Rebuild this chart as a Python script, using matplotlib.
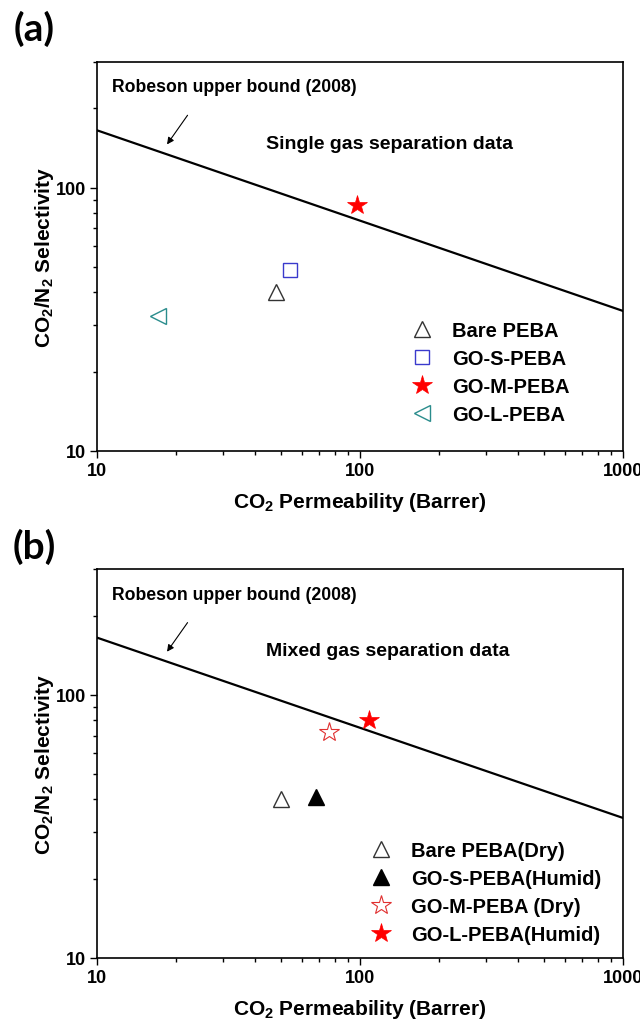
import matplotlib.pyplot as plt
import matplotlib.ticker as mticker

plt.rcParams['font.family'] = ['Liberation Sans', 'DejaVu Sans']
plt.rcParams['font.weight'] = 'bold'
plt.rcParams['axes.labelweight'] = 'bold'
plt.rcParams['mathtext.fontset'] = 'custom'
plt.rcParams['mathtext.rm'] = 'Liberation Sans:bold'
plt.rcParams['mathtext.bf'] = 'Liberation Sans:bold'
plt.rcParams['mathtext.default'] = 'bf'

# Robeson upper bound (2008), read at the axis ends
bound_x = [10, 1000]
bound_y = [165, 34]

# (a) single gas separation data
single_labels = ['Bare PEBA', 'GO-S-PEBA', 'GO-M-PEBA', 'GO-L-PEBA']
single_perm = [48, 54, 97, 17]
single_sel = [40, 48.5, 86, 32.5]

# (b) mixed gas separation data
mixed_labels = ['Bare PEBA(Dry)', 'GO-S-PEBA(Humid)', 'GO-M-PEBA (Dry)', 'GO-L-PEBA(Humid)']
mixed_perm = [50, 68, 76, 108]
mixed_sel = [40, 41, 72, 80.5]

single_style = [
    dict(marker='^', mfc='none', mec='#333333', ms=11, mew=1.0),
    dict(marker='s', mfc='none', mec='#3a3acc', ms=10, mew=1.0),
    dict(marker='*', mfc='red', mec='red', ms=15, mew=0.5),
    dict(marker='<', mfc='none', mec='#2a8c8c', ms=11, mew=1.0),
]
mixed_style = [
    dict(marker='^', mfc='none', mec='#333333', ms=11, mew=1.0),
    dict(marker='^', mfc='black', mec='black', ms=11, mew=1.0),
    dict(marker='*', mfc='none', mec='#e03030', ms=15, mew=0.8),
    dict(marker='*', mfc='red', mec='red', ms=15, mew=0.5),
]


def draw_panel(ax, perm, sel, labels, styles, title, legend_anchor):
    ax.plot(bound_x, bound_y, color='black', lw=1.6)
    for p, s, lab, st in zip(perm, sel, labels, styles):
        ax.plot([p], [s], ls='none', label=lab, **st)
    ax.set_xscale('log')
    ax.set_yscale('log')
    ax.set_xlim(10, 1000)
    ax.set_ylim(10, 300)
    ax.xaxis.set_major_formatter(mticker.FormatStrFormatter('%d'))
    ax.yaxis.set_major_formatter(mticker.FormatStrFormatter('%d'))
    ax.xaxis.set_minor_formatter(mticker.NullFormatter())
    ax.yaxis.set_minor_formatter(mticker.NullFormatter())
    ax.tick_params(which='major', direction='out', length=5, width=1.0, labelsize=13, pad=3)
    ax.tick_params(which='minor', direction='out', length=3, width=1.0)
    ax.tick_params(top=False, right=False, which='both')
    for sp in ax.spines.values():
        sp.set_linewidth(1.2)
    ax.set_xlabel('CO$_2$ Permeability (Barrer)', fontsize=15, labelpad=8)
    ax.set_ylabel('CO$_2$/N$_2$ Selectivity', fontsize=15, labelpad=0)
    ax.text(0.028, 0.936, 'Robeson upper bound (2008)', transform=ax.transAxes,
            fontsize=12.7, ha='left', va='center')
    ax.text(0.321, 0.79, title, transform=ax.transAxes, fontsize=14, ha='left', va='center')
    ax.annotate('', xy=(18.2, 143), xytext=(22.4, 192),
                arrowprops=dict(arrowstyle='-|>', color='black', lw=0.8,
                                mutation_scale=10))
    ax.legend(loc='upper left', bbox_to_anchor=legend_anchor, frameon=False,
              fontsize=14.5, handlelength=1.0, handletextpad=1.0, labelspacing=0.45,
              borderpad=0, borderaxespad=0, numpoints=1)


fig = plt.figure(figsize=(6.4, 10.2), dpi=100)
ax1 = fig.add_axes([0.1516, 0.5569, 0.822, 0.3814])
ax2 = fig.add_axes([0.1516, 0.0601, 0.822, 0.3807])

draw_panel(ax1, single_perm, single_sel, single_labels, single_style,
           'Single gas separation data', (0.599, 0.335))
draw_panel(ax2, mixed_perm, mixed_sel, mixed_labels, mixed_style,
           'Mixed gas separation data', (0.521, 0.30))

fig.text(34 / 640, 1 - 29 / 1020, '(a)', fontsize=28, fontweight='bold',
         family=['Lato', 'DejaVu Sans'], ha='center', va='center')
fig.text(34 / 640, 1 - 547 / 1020, '(b)', fontsize=28, fontweight='bold',
         family=['Lato', 'DejaVu Sans'], ha='center', va='center')

fig.savefig('out.png', dpi=100)
